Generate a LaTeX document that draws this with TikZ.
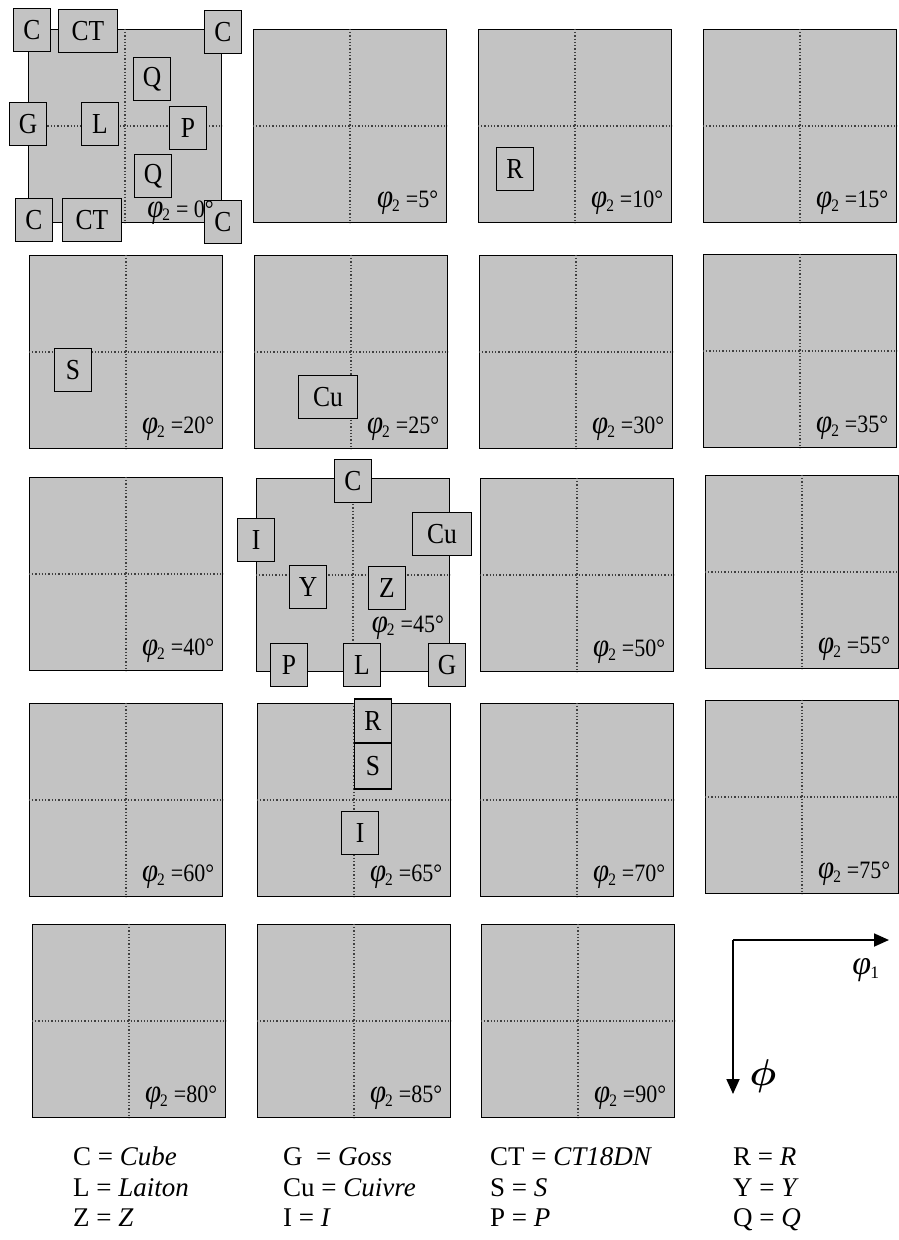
\documentclass[tikz,border=0pt]{standalone}
\usepackage{amsmath}
\usepackage{fontspec}
\setmainfont{Liberation Serif}
\newfontfamily\condSerif{Liberation Serif}[FakeStretch=0.88]
\usepackage{tikz}
\usetikzlibrary{arrows.meta,positioning}
\definecolor{panelGrey}{HTML}{C3C3C3}
\newcommand{\phiGlyph}[1]{{\fontsize{#1}{#1}\selectfont\itshape φ}}
\newcommand{\phiTwo}{\phiGlyph{33}\kern-1pt\textsubscript{2}}

\begin{document}
\begin{tikzpicture}[x=1pt,y=-1pt,
    panel/.style={draw,line width=1.7pt,fill=panelGrey,minimum size=193pt,inner sep=0pt},
    texbox/.style={draw,line width=1.5pt,fill=panelGrey,minimum width=37pt,minimum height=43pt,inner sep=0pt,font=\condSerif\fontsize{29}{29}\selectfont},
    wide/.style={minimum width=59pt},
    cross/.style={dotted,line width=1.3pt,black!75},
    philbl/.style={anchor=base east,inner sep=0pt,font=\condSerif\fontsize{25}{25}\selectfont},
    legend/.style={anchor=base west,inner sep=0pt,font=\fontsize{27}{27}\selectfont}]
  \useasboundingbox (0,0) rectangle (899,1240);

  % phi2 sections
  \foreach \a/\cx/\cy in {0/125/126, 5/350/126, 10/575/126, 15/800/126,
      20/126/352, 25/351/352, 30/576/352, 35/800/351,
      40/126/574, 45/353/575, 50/577/575, 55/802/572,
      60/126/800, 65/354/800, 70/577/800, 75/802/797,
      80/129/1021, 85/354/1021, 90/578/1021} {
    \node[panel] (p\a) at (\cx,\cy) {};
    \draw[cross] (p\a.north) -- (p\a.south) (p\a.west) -- (p\a.east);
  }

  % texture components
  \node[texbox] (cA) at (32,30) {C};
  \node[texbox,wide] (ctA) at (88,31) {CT};
  \node[texbox] (cB) at (223,32) {C};
  \node[texbox] (qA) at (152,79) {Q};
  \node[texbox] (gA) at (28,124) {G};
  \node[texbox] (lA) at (100,124) {L};
  \node[texbox] (pA) at (188,128) {P};
  \node[texbox] (qB) at (153,176) {Q};
  \node[texbox] (cC) at (34,220) {C};
  \node[texbox,wide] (ctB) at (92,220) {CT};
  \node[texbox] (cD) at (223,222) {C};

  \node[texbox] (rA) at (515,169) {R};
  \node[texbox] (sA) at (73,370) {S};
  \node[texbox,wide] (cuA) at (328,397) {Cu};

  \node[texbox] (cE) at (353,481) {C};
  \node[texbox] (iA) at (256,540) {I};
  \node[texbox,wide] (cuB) at (442,534) {Cu};
  \node[texbox] (yA) at (308,587) {Y};
  \node[texbox] (zA) at (387,588) {Z};
  \node[texbox] (pB) at (289,665) {P};
  \node[texbox] (lB) at (362,665) {L};
  \node[texbox] (gB) at (447,665) {G};

  \node[texbox,minimum height=44pt] (rB) at (373,721) {R};
  \node[texbox,minimum height=46pt] (sB) at (373,766) {S};
  \node[texbox] (iB) at (360,833) {I};

  % section labels
  \foreach \a in {5,10,15,20,25,30,35,40,50,55,60,65,70,75,80,85,90}
    \node[philbl] (l\a) at ([xshift=-9pt,yshift=16pt]p\a.south east) {\phiTwo\ =\a°};
  \node[philbl] (l0) at (214,217) {\phiTwo\ = 0°};
  \node[philbl] (l45) at (444,632) {\phiTwo\ =45°};

  % Euler axes
  \coordinate (orig) at (733,940);
  \coordinate (phiEnd) at (889,940);
  \coordinate (PhiEnd) at (733,1094);
  \draw[line width=1.8pt,-{Triangle[length=15pt,width=13pt]}] (orig) -- (phiEnd);
  \draw[line width=1.8pt,-{Triangle[length=15pt,width=13pt]}] (orig) -- (PhiEnd);
  \node[font=\fontsize{25}{25}\selectfont] (phiOne) at (866,970) {\phiGlyph{34}\kern-1pt\textsubscript{1}};
  \node[scale=1.8,font=\fontsize{20}{20}\selectfont] (bigPhi) at (763,1076) {$\boldsymbol{\phi}$};

  % legend
  \foreach \t/\x/\y [count=\i] in {{C = \textit{Cube}}/73/1165, {L = \textit{Laiton}}/73/1196, {Z = \textit{Z}}/73/1226,
      {G \ = \textit{Goss}}/283/1165, {Cu = \textit{Cuivre}}/283/1196, {I = \textit{I}}/283/1226,
      {CT = \textit{CT18DN}}/490/1165, {S = \textit{S}}/490/1196, {P = \textit{P}}/490/1226,
      {R = \textit{R}}/733/1165, {Y = \textit{Y}}/733/1196, {Q = \textit{Q}}/733/1226}
    \node[legend] (leg\i) at (\x,\y) {\t};
\end{tikzpicture}
\end{document}
